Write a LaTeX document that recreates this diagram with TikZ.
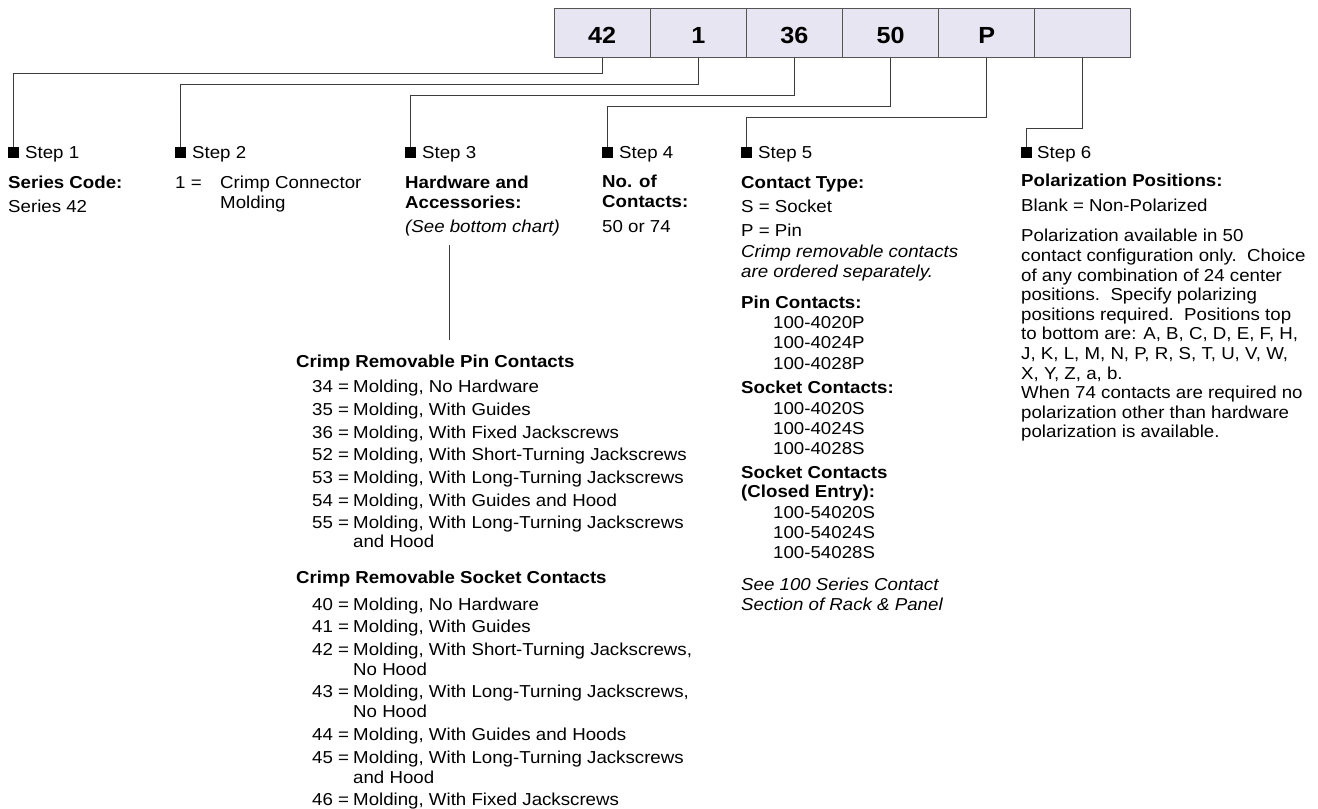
\documentclass[tikz,border=0pt]{standalone}
\usepackage{fontspec}
\setmainfont{Liberation Sans}[FakeStretch=1.08]
\definecolor{cellfill}{RGB}{230,229,241}
\definecolor{linegray}{RGB}{60,60,60}
\definecolor{cellborder}{RGB}{85,85,85}
\newcommand\bodyfs{\fontsize{17.3}{20}\selectfont}
\newcommand\Ln[4]{\node[txt] (#1) at (#2,#3) {#4};}
\newcommand\Item[4]{\node[txt] (#1n) at (312,#2) {#3 =};\node[txt] (#1t) at (353,#2) {#4};}
\begin{document}
\begin{tikzpicture}[x=1pt,y=-1pt,
 txt/.style={anchor=base west, inner sep=0pt, font=\bodyfs},
 cell/.style={draw=cellborder, line width=1pt, fill=cellfill, minimum width=96.17pt, minimum height=49pt, inner sep=0pt, text height=21.7pt, text depth=0pt, font=\fontsize{23.3}{26}\selectfont\bfseries},
 marker/.style={fill=black, minimum size=11pt, inner sep=0pt},
 conn/.style={draw=linegray, line width=1pt}]
\useasboundingbox (0,0) rectangle (1318,809);
% code cells
\node[cell] (c1) at (602.1,32.5) {42};
\node[cell] (c2) at (698.3,32.5) {1};
\node[cell] (c3) at (794.4,32.5) {36};
\node[cell] (c4) at (890.6,32.5) {50};
\node[cell] (c5) at (986.8,32.5) {P};
\node[cell] (c6) at (1082.9,32.5) {};
% step markers
\node[marker] (s1) at (13.5,152.5) {};
\node[marker] (s2) at (180.5,152.5) {};
\node[marker] (s3) at (410.5,152.5) {};
\node[marker] (s4) at (607.5,152.5) {};
\node[marker] (s5) at (746.5,152.5) {};
\node[marker] (s6) at (1026.5,152.5) {};
\Ln{s1t}{25}{158}{Step 1}
\Ln{s2t}{192}{158}{Step 2}
\Ln{s3t}{422}{158}{Step 3}
\Ln{s4t}{619}{158}{Step 4}
\Ln{s5t}{758}{158}{Step 5}
\Ln{s6t}{1037}{158}{Step 6}
% connector levels
\coordinate (L1) at (0,73);
\coordinate (L2) at (0,84);
\coordinate (L3) at (0,95);
\coordinate (L4) at (0,106);
\coordinate (L5) at (0,117);
\coordinate (L6) at (0,128);
\draw[conn] (c1.south) -- (c1.south |- L1) -| (s1.north);
\draw[conn] (c2.south) -- (c2.south |- L2) -| (s2.north);
\draw[conn] (c3.south) -- (c3.south |- L3) -| (s3.north);
\draw[conn] (c4.south) -- (c4.south |- L4) -| (s4.north);
\draw[conn] (c5.south) -- (c5.south |- L5) -| (s5.north);
\draw[conn] (c6.south) -- (c6.south |- L6) -| (s6.north);
% Step 1
\Ln{t1a}{8}{188}{\bfseries Series Code:}
\Ln{t1b}{8}{212}{Series 42}
% Step 2
\Ln{t2a}{175}{188}{1 =}
\Ln{t2b}{220}{188}{Crimp Connector}
\Ln{t2c}{220}{208}{Molding}
% Step 3
\Ln{t3a}{405}{188}{\bfseries Hardware and}
\Ln{t3b}{405}{208}{\bfseries Accessories:}
\Ln{t3c}{405}{232}{\itshape (See bottom chart)}
% Step 4
\Ln{t4a}{602}{187}{\bfseries No. of}
\Ln{t4b}{602}{207}{\bfseries Contacts:}
\Ln{t4c}{602}{232}{50 or 74}
% Step 5
\Ln{t5a}{741}{188}{\bfseries Contact Type:}
\Ln{t5b}{741}{212}{S = Socket}
\Ln{t5c}{741}{236}{P = Pin}
\Ln{t5d}{741}{257}{\itshape Crimp removable contacts}
\Ln{t5e}{741}{277}{\itshape are ordered separately.}
\Ln{t5f}{741}{308}{\bfseries Pin Contacts:}
\Ln{t5g}{773}{328}{100-4020P}
\Ln{t5h}{773}{348}{100-4024P}
\Ln{t5i}{773}{369}{100-4028P}
\Ln{t5j}{741}{393}{\bfseries Socket Contacts:}
\Ln{t5k}{773}{414}{100-4020S}
\Ln{t5l}{773}{434}{100-4024S}
\Ln{t5m}{773}{454}{100-4028S}
\Ln{t5n}{741}{478}{\bfseries Socket Contacts}
\Ln{t5o}{741}{497}{\bfseries (Closed Entry):}
\Ln{t5p}{773}{518}{100-54020S}
\Ln{t5q}{773}{538}{100-54024S}
\Ln{t5r}{773}{558}{100-54028S}
\Ln{t5s}{741}{590}{\itshape See 100 Series Contact}
\Ln{t5t}{741}{610}{\itshape Section of Rack \& Panel}
% Step 6
\Ln{t6a}{1021}{186}{\bfseries Polarization Positions:}
\Ln{t6b}{1021}{211}{Blank = Non-Polarized}
\Ln{t6c}{1021}{241}{Polarization available in 50}
\Ln{t6d}{1021}{261}{contact configuration only.\ \ Choice}
\Ln{t6e}{1021}{281}{of any combination of 24 center}
\Ln{t6f}{1021}{300}{positions.\ \ Specify polarizing}
\Ln{t6g}{1021}{320}{positions required.\ \ Positions top}
\Ln{t6h}{1021}{339}{to bottom are: A, B, C, D, E, F, H,}
\Ln{t6i}{1021}{359}{J, K, L, M, N, P, R, S, T, U, V, W,}
\Ln{t6j}{1021}{379}{X, Y, Z, a, b.}
\Ln{t6k}{1021}{398}{When 74 contacts are required no}
\Ln{t6l}{1021}{418}{polarization other than hardware}
\Ln{t6m}{1021}{437}{polarization is available.}
% chart link
\coordinate (chTop) at (449,245);
\coordinate (chBot) at (449,340);
\draw[conn] (chTop) -- (chBot);
% pin chart
\Ln{hp}{296}{367}{\bfseries Crimp Removable Pin Contacts}
\Item{p34}{392}{34}{Molding, No Hardware}
\Item{p35}{415}{35}{Molding, With Guides}
\Item{p36}{438}{36}{Molding, With Fixed Jackscrews}
\Item{p52}{460}{52}{Molding, With Short-Turning Jackscrews}
\Item{p53}{483}{53}{Molding, With Long-Turning Jackscrews}
\Item{p54}{506}{54}{Molding, With Guides and Hood}
\Item{p55}{528}{55}{Molding, With Long-Turning Jackscrews}
\Ln{p55c}{353}{547}{and Hood}
% socket chart
\Ln{hs}{296}{583}{\bfseries Crimp Removable Socket Contacts}
\Item{q40}{610}{40}{Molding, No Hardware}
\Item{q41}{632}{41}{Molding, With Guides}
\Item{q42}{655}{42}{Molding, With Short-Turning Jackscrews,}
\Ln{q42c}{353}{675}{No Hood}
\Item{q43}{697}{43}{Molding, With Long-Turning Jackscrews,}
\Ln{q43c}{353}{717}{No Hood}
\Item{q44}{740}{44}{Molding, With Guides and Hoods}
\Item{q45}{763}{45}{Molding, With Long-Turning Jackscrews}
\Ln{q45c}{353}{783}{and Hood}
\Item{q46}{805}{46}{Molding, With Fixed Jackscrews}
\end{tikzpicture}
\end{document}
